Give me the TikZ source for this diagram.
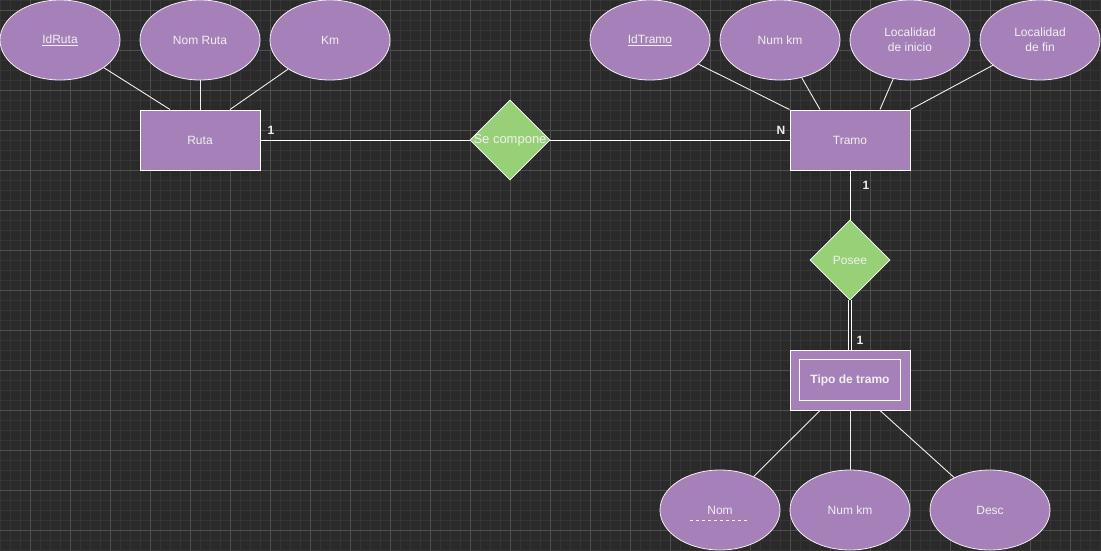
\documentclass[tikz,border=0pt]{standalone}
\usepackage{fontspec}
\setmainfont{Liberation Sans}
\usetikzlibrary{shapes.geometric,calc}
\definecolor{canvas}{HTML}{2A2A2A}
\definecolor{gridminor}{HTML}{353535}
\definecolor{gridmajor}{HTML}{4F4F4F}
\definecolor{erpurple}{HTML}{A680B8}
\definecolor{ergreen}{HTML}{97D077}
\definecolor{ink}{HTML}{F0F0F0}

\begin{document}
\begin{tikzpicture}[x=1pt,y=-1pt,
  every node/.style={font=\fontsize{12}{15}\selectfont, text=ink},
  attr/.style={ellipse, draw=ink, fill=erpurple, minimum width=120pt,
    minimum height=80pt, inner sep=0pt, align=center, line width=0.8pt},
  entity/.style={rectangle, draw=white, fill=erpurple, minimum width=120pt,
    minimum height=60pt, inner sep=0pt, line width=1pt},
  rel/.style={diamond, draw=white, fill=ergreen, minimum width=80pt,
    minimum height=80pt, inner sep=0pt, aspect=1, line width=0.8pt},
  link/.style={draw=ink, line width=0.9pt},
  card/.style={font=\fontsize{12}{15}\selectfont\bfseries, inner sep=0pt}
]
% canvas and grid
\useasboundingbox (0,0) rectangle (1101,551);
\fill[canvas] (0,0) rectangle (1101,551);
\foreach \x in {0,10,...,1100} \draw[gridminor, line width=0.8pt] (\x,0) -- (\x,551);
\foreach \y in {0,10,...,550} \draw[gridminor, line width=0.8pt] (0,\y) -- (1101,\y);
\foreach \x in {30,70,...,1090} \draw[gridmajor, line width=0.8pt] (\x,0) -- (\x,551);
\foreach \y in {10,50,...,530} \draw[gridmajor, line width=0.8pt] (0,\y) -- (1101,\y);

% entity Ruta and its attributes
\node[attr] (idruta) at (60,40) {\underline{IdRuta}};
\node[attr] (nomruta) at (200,40) {Nom Ruta};
\node[attr] (km) at (330,40) {Km};
\node[entity] (ruta) at (200,140) {Ruta};

% relationship Se compone
\node[rel] (secompone) at (510,140) {\fontsize{13}{15}\selectfont\makebox[0pt]{Se compone}};

% entity Tramo and its attributes
\node[attr] (idtramo) at (650,40) {\underline{IdTramo}};
\node[attr] (numkm) at (780,40) {Num km};
\node[attr] (locini) at (910,40) {Localidad\\de inicio};
\node[attr] (locfin) at (1040,40) {Localidad\\de fin};
\node[entity] (tramo) at (850,140) {Tramo};

% relationship Posee
\node[rel] (posee) at (850,260) {Posee};

% weak entity Tipo de tramo and its attributes
\node[entity] (tipo) at (850,380) {\bfseries Tipo de tramo};
\draw[white, line width=1pt] ($(tipo.north west)+(10,10)$) rectangle ($(tipo.south east)+(-10,-10)$);
\node[attr] (nom) at (720,510) {Nom};
\node[attr] (numkmtipo) at (850,510) {Num km};
\node[attr] (desc) at (990,510) {Desc};
\draw[ink, line width=0.8pt, dash pattern=on 3pt off 3pt] ($(nom.center)+(-30,10)$) -- ++(58,0);

% attribute links
\draw[link] (idruta) -- ($(ruta.north)+(-30,0)$);
\draw[link] (nomruta) -- (ruta.north);
\draw[link] (km) -- ($(ruta.north)+(30,0)$);
\draw[link] (idtramo) -- (tramo.north west);
\draw[link] (numkm) -- ($(tramo.north)+(-30,0)$);
\draw[link] (locini) -- ($(tramo.north)+(30,0)$);
\draw[link] (locfin) -- (tramo.north east);
\draw[link] (nom) -- ($(tipo.south)+(-30,0)$);
\draw[link] (numkmtipo) -- (tipo.south);
\draw[link] (desc) -- ($(tipo.south)+(30,0)$);

% relationship links
\draw[link, draw=white] (ruta) -- (secompone);
\draw[link, draw=white] (secompone) -- (tramo);
\draw[link, draw=white] (tramo) -- (posee);
\draw[draw=white, line width=0.9pt, double=canvas, double distance=2.6pt] (posee) -- (tipo);

% cardinalities
\node[card] (c1) at (271,130) {1};
\node[card] (cn) at (781,130) {N};
\node[card] (c2) at (866,185) {1};
\node[card] (c3) at (860,340) {1};
\end{tikzpicture}
\end{document}
